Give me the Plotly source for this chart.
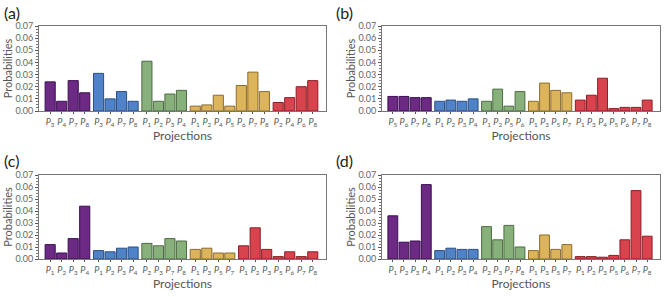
import plotly.graph_objects as go

# ---- data ----
group_colors = ["#6c2a84", "#4f82c6", "#88b07a", "#dbb45c", "#d8434d"]
group_lines = ["#3b0f52", "#2b4f85", "#4d6b44", "#8c6b2c", "#8a1e27"]

a_labels = [[3, 4, 7, 8], [3, 4, 7, 8], [1, 2, 3, 4], [1, 2, 4, 5, 6, 7, 8], [2, 4, 6, 8]]
a_values = [[0.024, 0.008, 0.025, 0.015], [0.031, 0.010, 0.016, 0.008], [0.041, 0.008, 0.014, 0.017],
            [0.004, 0.005, 0.013, 0.004, 0.021, 0.032, 0.016], [0.007, 0.011, 0.020, 0.025]]

b_labels = [[5, 6, 7, 8], [1, 2, 3, 4], [1, 2, 5, 6], [1, 3, 5, 7], [1, 3, 4, 5, 6, 7, 8]]
b_values = [[0.012, 0.012, 0.011, 0.011], [0.008, 0.009, 0.008, 0.010], [0.008, 0.018, 0.004, 0.016],
            [0.008, 0.023, 0.017, 0.015], [0.009, 0.013, 0.027, 0.002, 0.003, 0.003, 0.009]]

c_labels = [[1, 2, 3, 4], [1, 2, 3, 4], [2, 3, 7, 8], [1, 3, 5, 7], [1, 2, 3, 5, 6, 7, 8]]
c_values = [[0.012, 0.005, 0.017, 0.044], [0.007, 0.006, 0.009, 0.010], [0.013, 0.011, 0.017, 0.015],
            [0.008, 0.009, 0.005, 0.005], [0.011, 0.026, 0.008, 0.002, 0.006, 0.002, 0.006]]

d_labels = [[1, 2, 3, 4], [1, 2, 3, 4], [2, 3, 7, 8], [1, 3, 5, 7], [1, 2, 3, 5, 6, 7, 8]]
d_values = [[0.036, 0.014, 0.015, 0.062], [0.007, 0.009, 0.008, 0.008], [0.027, 0.016, 0.028, 0.010],
            [0.007, 0.020, 0.008, 0.012], [0.002, 0.002, 0.0015, 0.003, 0.016, 0.057, 0.019]]

panels = [("(a)", a_labels, a_values), ("(b)", b_labels, b_values),
          ("(c)", c_labels, c_values), ("(d)", d_labels, d_values)]

y_ticks = [0.00, 0.01, 0.02, 0.03, 0.04, 0.05, 0.06, 0.07]

# ---- layout geometry ----
W, H = 664, 297
xdoms = [(39 / W, 326 / W), (382 / W, 660 / W)]
ydoms = [(1 - 111 / H, 1 - 26 / H), (1 - 259 / H, 1 - 175 / H)]
GROUP_GAP = 0.2
FONT = "Lato, 'DejaVu Sans', sans-serif"

fig = go.Figure()
layout = dict(width=W, height=H, margin=dict(l=0, r=0, t=0, b=0, autoexpand=False),
              paper_bgcolor="white", plot_bgcolor="white", showlegend=False,
              font=dict(family=FONT, color="#555"), annotations=[])

for k, (name, labels, values) in enumerate(panels):
    row, col = divmod(k, 2)
    xa = "x" if k == 0 else f"x{k+1}"
    ya = "y" if k == 0 else f"y{k+1}"
    tickvals, ticktext = [], []
    idx = 0
    for g, (labs, vals) in enumerate(zip(labels, values)):
        xs = [idx + i + g * GROUP_GAP for i in range(len(vals))]
        idx += len(vals)
        tickvals += xs
        ticktext += [f"<i>P</i><sub>{n}</sub>" for n in labs]
        fig.add_trace(go.Bar(x=xs, y=vals, width=0.88, xaxis=xa, yaxis=ya,
                             marker=dict(color=group_colors[g],
                                         line=dict(color=group_lines[g], width=1))))
    xr = [-0.97, tickvals[-1] + 1.15]
    layout["xaxis" if k == 0 else f"xaxis{k+1}"] = dict(
        domain=xdoms[col], anchor=ya, range=xr, tickvals=tickvals, ticktext=ticktext,
        automargin=False, tickangle=0,
        showline=True, mirror=True, linecolor="#777", linewidth=1,
        ticks="outside", ticklen=2, tickcolor="#555",
        tickfont=dict(size=9, color="#555"), showgrid=False, zeroline=False,
        title=dict(text="Projections", font=dict(size=12, color="#555"), standoff=2))
    layout["yaxis" if k == 0 else f"yaxis{k+1}"] = dict(
        domain=ydoms[row], anchor=xa, range=[0, 0.07], tickvals=y_ticks,
        ticktext=[f"{v:.2f}" for v in y_ticks], automargin=False,
        showline=True, mirror=True, linecolor="#777", linewidth=1,
        ticks="outside", ticklen=3, tickcolor="#555",
        minor=dict(ticks="outside", ticklen=2, dtick=0.0025, tickcolor="#777"),
        tickfont=dict(size=9, color="#666"), showgrid=False, zeroline=False,
        title=dict(text="Probabilities", font=dict(size=11, color="#555"), standoff=0))
    layout["annotations"].append(dict(
        text=name, xref="paper", yref="paper",
        x=(2 if col == 0 else 334) / W, y=1 - ((1 if row == 0 else 149) / H),
        xanchor="left", yanchor="top", showarrow=False,
        font=dict(size=16, color="#222", family=FONT)))

fig.update_layout(**layout)
fig.write_html("out.html", config={"displayModeBar": False},
               post_script="document.body.style.margin='0';document.body.style.overflow='hidden';")
